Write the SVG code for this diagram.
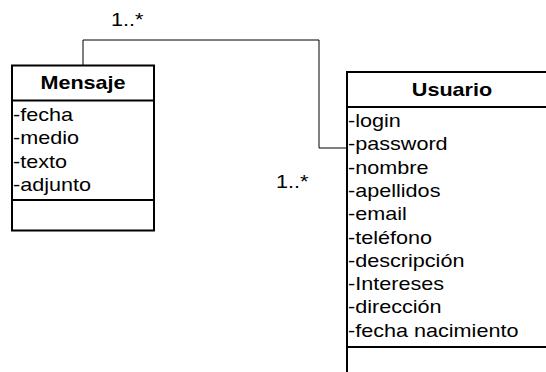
<svg xmlns="http://www.w3.org/2000/svg" width="546" height="372" viewBox="0 0 546 372">
<style>
.box{fill:#fff;stroke:#000;stroke-width:2}
.div{stroke:#000;stroke-width:2}
text{font-family:"Liberation Sans",Arial,sans-serif;font-size:18px;fill:#000}
.title{font-weight:bold;text-anchor:middle}
.conn{fill:none;stroke:#000;stroke-width:1}
</style>
<rect width="546" height="372" fill="#fff"/>
<g id="connectors">
<polyline class="conn" points="83,65 83,40 319,40 319,148 347,148"/>
<text transform="matrix(1.2,0,0,1,111,26)">1..*</text>
<text transform="matrix(1.2,0,0,1,276,188)">1..*</text>
</g>
<g id="mensaje">
<rect class="box" x="12" y="65.5" width="142" height="165"/>
<line class="div" x1="12" y1="100.5" x2="154" y2="100.5"/>
<line class="div" x1="12" y1="200" x2="154" y2="200"/>
<text class="title" transform="matrix(1.2,0,0,1,83,89)">Mensaje</text>
<text transform="matrix(1.2,0,0,1,13,121)">-fecha</text>
<text transform="matrix(1.2,0,0,1,13,144.3)">-medio</text>
<text transform="matrix(1.2,0,0,1,13,167.6)">-texto</text>
<text transform="matrix(1.2,0,0,1,13,190.9)">-adjunto</text>
</g>
<g id="usuario">
<rect class="box" x="347" y="72" width="210" height="310"/>
<line class="div" x1="347" y1="107" x2="546" y2="107"/>
<line class="div" x1="347" y1="347" x2="546" y2="347"/>
<text class="title" transform="matrix(1.2,0,0,1,452,96)">Usuario</text>
<text transform="matrix(1.2,0,0,1,348,127)">-login</text>
<text transform="matrix(1.2,0,0,1,348,150.3)">-password</text>
<text transform="matrix(1.2,0,0,1,348,173.6)">-nombre</text>
<text transform="matrix(1.2,0,0,1,348,196.9)">-apellidos</text>
<text transform="matrix(1.2,0,0,1,348,220.2)">-email</text>
<text transform="matrix(1.2,0,0,1,348,243.5)">-teléfono</text>
<text transform="matrix(1.2,0,0,1,348,266.8)">-descripción</text>
<text transform="matrix(1.2,0,0,1,348,290.1)">-Intereses</text>
<text transform="matrix(1.2,0,0,1,348,313.4)">-dirección</text>
<text transform="matrix(1.2,0,0,1,348,336.7)">-fecha nacimiento</text>
</g>
</svg>
